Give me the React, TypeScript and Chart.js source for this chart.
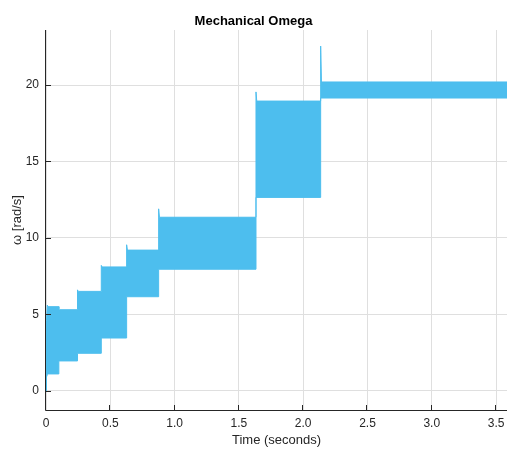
import React, { useEffect, useRef } from 'react';
import { Chart, registerables } from 'chart.js';

Chart.register(...registerables);

// Time limits and ticks
const xMin = 0;
const xMax = 3.585;
const yMin = -1.26;
const yMax = 23.6;
const xTickStep = 0.5;
const yTickStep = 5;

// Initial rise of the signal (t, upper, lower)
const startT = [0, 0.004, 0.01];
const startUpper = [0, 4.6, 5.6];
const startLower = [0, 0.9, 1.05];

// Oscillation bands per speed step
const segStart = [0.01, 0.1, 0.245, 0.43, 0.627, 0.876, 1.633, 2.136];
const segEnd = [0.1, 0.245, 0.43, 0.627, 0.876, 1.633, 2.136, 3.585];
const segPeak = [5.6, 5.35, 6.6, 8.2, 9.55, 11.9, 19.55, 22.55];
const segTop = [5.5, 5.3, 6.5, 8.1, 9.2, 11.35, 18.95, 20.2];
const segBottom = [1.1, 1.95, 2.45, 3.45, 6.15, 7.95, 12.65, 19.15];
const spikeWidth = 0.006;

const BAND = 'rgb(77,190,238)';
const AXIS = '#262626';
const GRID = '#dfdfdf';
const FONT = '"Liberation Sans", Arial, Helvetica, sans-serif';

const matlabAxes = {
  id: 'matlabAxes',
  afterDatasetsDraw(chart: any) {
    const { ctx, chartArea, scales } = chart;
    const { left, right, top, bottom } = chartArea;
    const x = scales.x;
    const y = scales.y;
    ctx.save();
    ctx.strokeStyle = AXIS;
    ctx.lineWidth = 1;
    ctx.beginPath();
    ctx.moveTo(left - 0.5, top);
    ctx.lineTo(left - 0.5, bottom + 0.5);
    ctx.lineTo(right, bottom + 0.5);
    const tl = 5;
    x.ticks.forEach((t: any) => {
      const px = Math.round(x.getPixelForValue(t.value)) - 0.5;
      ctx.moveTo(px, bottom);
      ctx.lineTo(px, bottom - tl);
    });
    y.ticks.forEach((t: any) => {
      const py = Math.round(y.getPixelForValue(t.value)) + 0.5;
      ctx.moveTo(left, py);
      ctx.lineTo(left + tl, py);
    });
    ctx.stroke();
    ctx.restore();
  },
};

export default function App() {
  const ref = useRef<HTMLCanvasElement>(null);

  useEffect(() => {
    const upper: { x: number; y: number }[] = [];
    const lower: { x: number; y: number }[] = [];
    startT.forEach((t, i) => {
      upper.push({ x: t, y: startUpper[i] });
      lower.push({ x: t, y: startLower[i] });
    });
    segStart.forEach((s, i) => {
      upper.push({ x: s, y: segPeak[i] });
      upper.push({ x: s + spikeWidth, y: segTop[i] });
      upper.push({ x: segEnd[i], y: segTop[i] });
      lower.push({ x: s, y: segBottom[i] });
      lower.push({ x: segEnd[i], y: segBottom[i] });
    });

    const chart = new Chart(ref.current as HTMLCanvasElement, {
      type: 'line',
      data: {
        datasets: [
          {
            label: 'upper',
            data: upper,
            borderColor: BAND,
            backgroundColor: BAND,
            borderWidth: 1,
            pointRadius: 0,
            tension: 0,
            fill: '+1',
          },
          {
            label: 'lower',
            data: lower,
            borderColor: BAND,
            backgroundColor: BAND,
            borderWidth: 1,
            pointRadius: 0,
            tension: 0,
            fill: false,
          },
        ],
      },
      options: {
        responsive: false,
        animation: false,
        layout: { padding: 0 },
        plugins: {
          legend: { display: false },
          tooltip: { enabled: false },
          title: {
            display: true,
            text: 'Mechanical Omega',
            color: '#000',
            font: { family: FONT, size: 13, weight: 'bold' },
            padding: { top: 14, bottom: 0.4 },
          },
        },
        scales: {
          x: {
            type: 'linear',
            min: xMin,
            max: xMax,
            afterFit: (s: any) => {
              s.height = 39;
              s.paddingLeft = 0;
              s.paddingRight = 0;
            },
            border: { display: false },
            grid: { color: GRID, drawTicks: false, lineWidth: 1 },
            ticks: {
              stepSize: xTickStep,
              includeBounds: false,
              color: AXIS,
              padding: 6,
              maxRotation: 0,
              font: { family: FONT, size: 12 },
            },
            title: {
              display: true,
              text: 'Time (seconds)',
              color: AXIS,
              font: { family: FONT, size: 13 },
              padding: { top: 0, bottom: 1 },
            },
          },
          y: {
            type: 'linear',
            min: yMin,
            max: yMax,
            afterFit: (s: any) => {
              s.width = 46;
              s.paddingTop = 0;
              s.paddingBottom = 0;
            },
            border: { display: false },
            grid: { color: GRID, drawTicks: false, lineWidth: 1 },
            ticks: {
              stepSize: yTickStep,
              includeBounds: false,
              color: AXIS,
              padding: 7,
              font: { family: FONT, size: 12 },
            },
            title: {
              display: true,
              text: '\u03c9 [rad/s]',
              color: AXIS,
              font: { family: FONT, size: 13 },
              padding: { top: 10, bottom: 0 },
            },
          },
        },
      },
      plugins: [matlabAxes],
    } as any);
    return () => chart.destroy();
  }, []);

  return (
    <div style={{ position: 'fixed', left: 0, top: 0, width: 507, height: 449, background: '#fff' }}>
      <canvas ref={ref} width={507} height={449} style={{ display: 'block' }} />
    </div>
  );
}
